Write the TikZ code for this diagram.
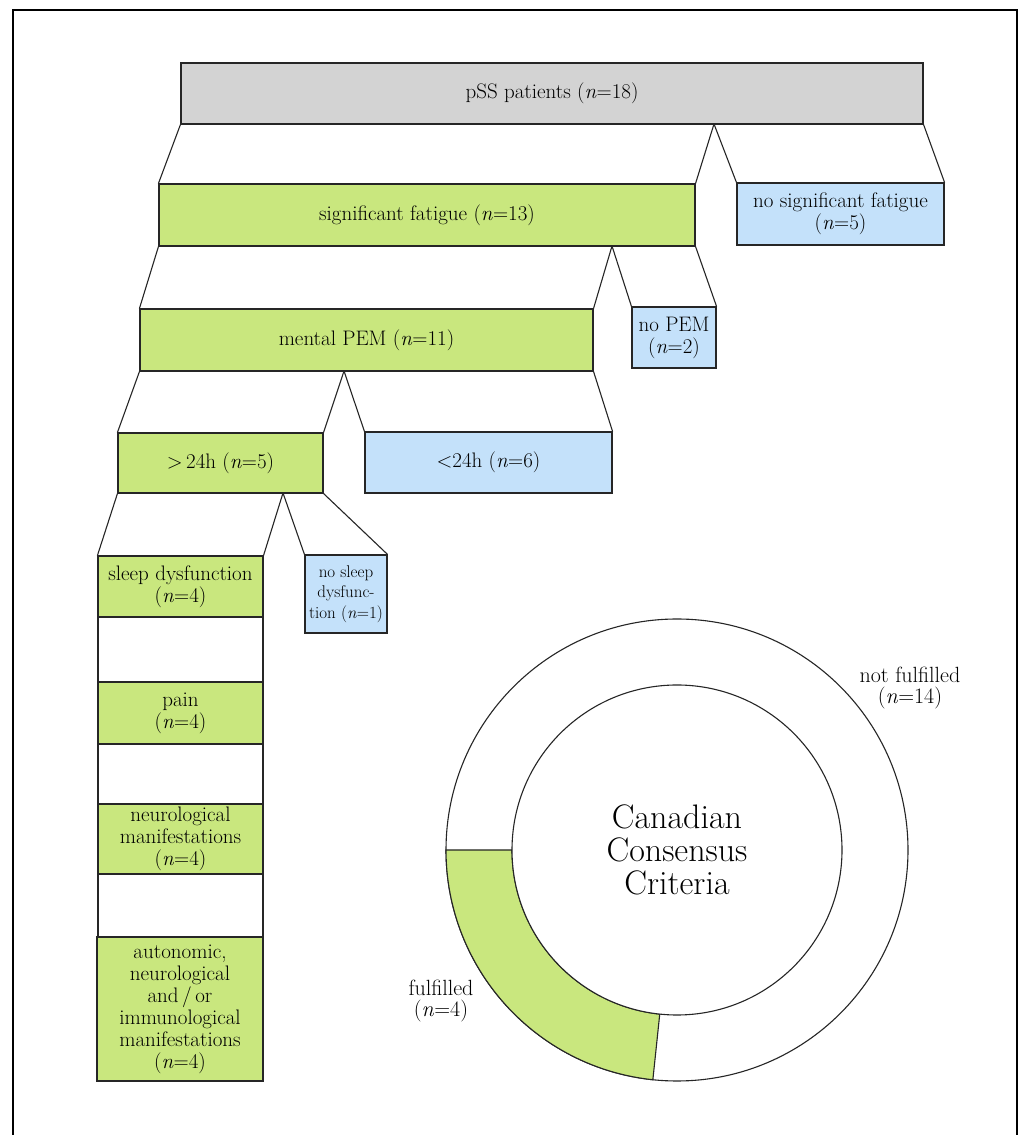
\documentclass[tikz,border=0pt]{standalone}
\usetikzlibrary{calc}
\definecolor{boxgreen}{RGB}{201,231,126}
\definecolor{boxblue}{RGB}{196,225,250}
\definecolor{boxgray}{RGB}{211,211,211}
\tikzset{
  bx/.style={draw=black!85, line width=1.1pt, inner sep=0pt, align=center,
             font=\fontsize{21}{22}\selectfont},
  greenbox/.style={bx, fill=boxgreen},
  bluebox/.style={bx, fill=boxblue},
  graybox/.style={bx, fill=boxgray},
  gapbox/.style={bx, fill=white},
  conn/.style={draw=black!85, line width=1.1pt},
  lbl/.style={align=center, inner sep=0pt, font=\fontsize{22}{21.5}\selectfont},
}
\begin{document}
\begin{tikzpicture}[x=1pt,y=1pt]
\useasboundingbox (0,0) rectangle (1019,1135);
\fill[white] (0,0) rectangle (1019,1135);
\draw[line width=2pt] (13,-5) -- (13,1125) -- (1017,1125) -- (1017,-5);

% tree boxes
\node[graybox, minimum width=742pt, minimum height=61pt] (pss) at (552,1041.5) {pSS patients (\textit{n}=18)};
\node[greenbox, minimum width=536pt, minimum height=62pt] (sf) at (427,920) {significant fatigue (\textit{n}=13)};
\node[bluebox, minimum width=207pt, minimum height=62pt] (nsf) at (840.5,921) {no significant fatigue\\(\textit{n}=5)};
\node[greenbox, minimum width=453pt, minimum height=62pt] (mpem) at (366.5,795) {mental PEM (\textit{n}=11)};
\node[bluebox, minimum width=84pt, minimum height=61pt] (nopem) at (674,797.5) {no PEM\\(\textit{n}=2)};
\node[greenbox, minimum width=205pt, minimum height=60pt] (gt) at (220.5,672) {$>$\,24h (\textit{n}=5)};
\node[bluebox, minimum width=247pt, minimum height=61pt] (lt) at (488.5,672.5) {$<$24h (\textit{n}=6)};
\node[greenbox, minimum width=165pt, minimum height=61pt] (sleep) at (180.5,548.5) {sleep dysfunction\\(\textit{n}=4)};
\node[bluebox, minimum width=82pt, minimum height=78pt, font=\fontsize{17}{20.5}\selectfont] (nsd) at (346,541) {no sleep\\dysfunc-\\tion (\textit{n}=1)};

\node[gapbox, minimum width=165pt, minimum height=65pt] (gapa) at (180.5,485.5) {};
\node[greenbox, minimum width=165pt, minimum height=62pt] (pain) at (180.5,422) {pain\\(\textit{n}=4)};
\node[gapbox, minimum width=165pt, minimum height=60pt] (gapb) at (180.5,361) {};
\node[greenbox, minimum width=165pt, minimum height=70pt] (neuro) at (180.5,296) {neurological\\manifestations\\(\textit{n}=4)};
\node[gapbox, minimum width=165pt, minimum height=63pt] (gapc) at (180.5,229.5) {};
\node[greenbox, minimum width=166pt, minimum height=144pt] (auto) at (180,126) {autonomic,\\neurological\\and\,/\,or\\immunological\\manifestations\\(\textit{n}=4)};

% split points
\coordinate (s1) at (714,1011);
\coordinate (s2) at (612,889);
\coordinate (s3) at (344,764);
\coordinate (s4) at (283,642);

% connectors
\draw[conn] (pss.south west) -- (sf.north west);
\draw[conn] (s1) -- (sf.north east);
\draw[conn] (s1) -- (nsf.north west);
\draw[conn] (pss.south east) -- (nsf.north east);

\draw[conn] (sf.south west) -- (mpem.north west);
\draw[conn] (s2) -- (mpem.north east);
\draw[conn] (s2) -- (nopem.north west);
\draw[conn] (sf.south east) -- (nopem.north east);

\draw[conn] (mpem.south west) -- (gt.north west);
\draw[conn] (s3) -- (gt.north east);
\draw[conn] (s3) -- (lt.north west);
\draw[conn] (mpem.south east) -- (lt.north east);

\draw[conn] (gt.south west) -- (sleep.north west);
\draw[conn] (s4) -- (sleep.north east);
\draw[conn] (s4) -- (nsd.north west);
\draw[conn] (gt.south east) -- (nsd.north east);

% donut
\coordinate (cc) at (677,285);
\node[circle, draw=black!85, line width=1.1pt, fill=white, minimum size=462pt, inner sep=0pt] (ring) at (cc) {};
\filldraw[fill=boxgreen, draw=black!85, line width=1.1pt]
  ($(cc)+(180:231)$) arc[start angle=180, end angle=264, radius=231pt]
  -- ($(cc)+(264:165)$) arc[start angle=264, end angle=180, radius=165pt] -- cycle;
\node[circle, draw=black!85, line width=1.1pt, fill=white, minimum size=330pt, inner sep=0pt,
      align=center, font=\fontsize{34}{33}\selectfont] (ccc) at (cc) {Canadian\\Consensus\\Criteria};

\node[lbl] (nf) at (910,447) {not fulfilled\\(\textit{n}=14)};
\node[lbl] (ff) at (441,134) {fulfilled\\(\textit{n}=4)};
\end{tikzpicture}
\end{document}
